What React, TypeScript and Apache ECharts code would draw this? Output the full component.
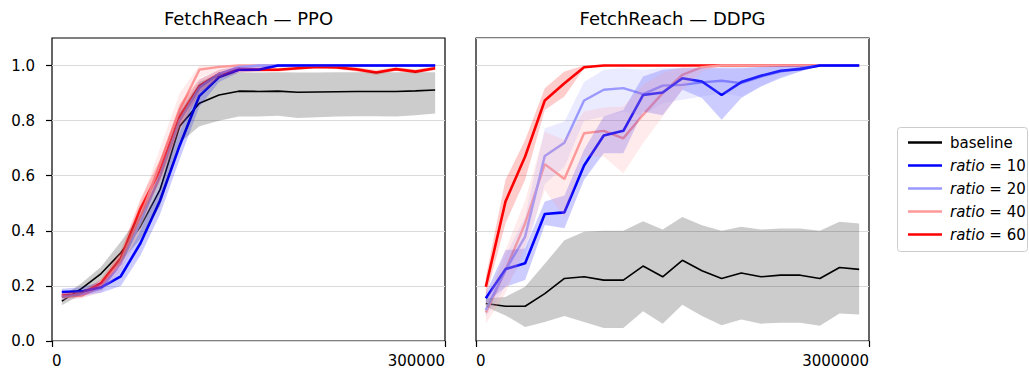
import React, { useEffect, useRef } from 'react';
import * as echarts from 'echarts';

const FONT = '"DejaVu Sans", "Noto Sans", sans-serif';

// x positions (environment steps)
const PPO_X = [7500, 22500, 37500, 52500, 67500, 82500, 97500, 112500, 127500, 142500, 157500, 172500, 187500, 202500, 217500, 232500, 247500, 262500, 277500, 292500];
const DDPG_X = [75000, 225000, 375000, 525000, 675000, 825000, 975000, 1125000, 1275000, 1425000, 1575000, 1725000, 1875000, 2025000, 2175000, 2325000, 2475000, 2625000, 2775000, 2925000];

const PPO_XTICKS = [0, 300000];
const DDPG_XTICKS = [0, 3000000];
const Y_TICKS = [0, 0.2, 0.4, 0.6, 0.8, 1.0];

// ---------- PPO ----------
const ppoBase = [0.145, 0.19, 0.245, 0.32, 0.415, 0.55, 0.78, 0.863, 0.893, 0.907, 0.906, 0.907, 0.903, 0.904, 0.905, 0.906, 0.906, 0.906, 0.908, 0.911];
const ppoBaseLo = [0.13, 0.17, 0.22, 0.285, 0.37, 0.49, 0.72, 0.78, 0.8, 0.815, 0.815, 0.818, 0.81, 0.812, 0.815, 0.816, 0.816, 0.815, 0.82, 0.826];
const ppoBaseHi = [0.16, 0.21, 0.27, 0.36, 0.46, 0.61, 0.83, 0.94, 0.97, 0.975, 0.975, 0.976, 0.975, 0.975, 0.976, 0.976, 0.976, 0.976, 0.976, 0.976];

const ppoR10 = [0.178, 0.18, 0.195, 0.235, 0.355, 0.51, 0.71, 0.89, 0.958, 0.985, 0.985, 1.0, 1.0, 1.0, 1.0, 1.0, 1.0, 1.0, 1.0, 1.0];
const ppoR10Lo = [0.16, 0.165, 0.175, 0.2, 0.31, 0.46, 0.66, 0.85, 0.94, 0.975, 0.98, 0.996, 1.0, 1.0, 1.0, 1.0, 1.0, 1.0, 1.0, 1.0];
const ppoR10Hi = [0.19, 0.195, 0.215, 0.27, 0.4, 0.56, 0.76, 0.93, 0.975, 0.995, 0.995, 1.0, 1.0, 1.0, 1.0, 1.0, 1.0, 1.0, 1.0, 1.0];

const ppoR20 = [0.16, 0.17, 0.19, 0.28, 0.43, 0.6, 0.8, 0.92, 0.97, 0.995, 1.0, 1.0, 1.0, 1.0, 1.0, 1.0, 1.0, 1.0, 1.0, 1.0];
const ppoR20Lo = [0.148, 0.158, 0.175, 0.25, 0.39, 0.56, 0.76, 0.89, 0.955, 0.985, 0.995, 1.0, 1.0, 1.0, 1.0, 1.0, 1.0, 1.0, 1.0, 1.0];
const ppoR20Hi = [0.172, 0.183, 0.208, 0.31, 0.47, 0.64, 0.84, 0.95, 0.985, 1.0, 1.0, 1.0, 1.0, 1.0, 1.0, 1.0, 1.0, 1.0, 1.0, 1.0];

const ppoR40 = [0.16, 0.165, 0.195, 0.29, 0.45, 0.645, 0.84, 0.985, 0.995, 1.0, 1.0, 1.0, 1.0, 1.0, 1.0, 1.0, 1.0, 1.0, 1.0, 1.0];
const ppoR40Lo = [0.148, 0.153, 0.178, 0.255, 0.4, 0.59, 0.78, 0.955, 0.985, 0.996, 1.0, 1.0, 1.0, 1.0, 1.0, 1.0, 1.0, 1.0, 1.0, 1.0];
const ppoR40Hi = [0.173, 0.178, 0.213, 0.33, 0.5, 0.7, 0.9, 1.0, 1.0, 1.0, 1.0, 1.0, 1.0, 1.0, 1.0, 1.0, 1.0, 1.0, 1.0, 1.0];

const ppoR60 = [0.165, 0.17, 0.21, 0.3, 0.48, 0.62, 0.815, 0.925, 0.97, 0.985, 0.985, 0.985, 0.99, 0.995, 0.993, 0.986, 0.975, 0.987, 0.978, 0.99];
const ppoR60Lo = [0.155, 0.16, 0.195, 0.275, 0.445, 0.58, 0.77, 0.9, 0.955, 0.975, 0.977, 0.978, 0.984, 0.99, 0.987, 0.978, 0.966, 0.98, 0.97, 0.983];
const ppoR60Hi = [0.175, 0.18, 0.225, 0.325, 0.515, 0.66, 0.86, 0.95, 0.985, 0.995, 0.993, 0.992, 0.996, 1.0, 0.999, 0.994, 0.984, 0.994, 0.986, 0.997];

// ---------- DDPG ----------
const ddpgBase = [0.136, 0.126, 0.126, 0.172, 0.227, 0.233, 0.221, 0.221, 0.272, 0.233, 0.293, 0.255, 0.227, 0.247, 0.233, 0.239, 0.239, 0.227, 0.267, 0.26];
const ddpgBaseLo = [0.124, 0.093, 0.051, 0.069, 0.091, 0.069, 0.047, 0.047, 0.108, 0.063, 0.132, 0.091, 0.057, 0.078, 0.063, 0.066, 0.066, 0.055, 0.1, 0.096];
const ddpgBaseHi = [0.155, 0.16, 0.197, 0.28, 0.366, 0.397, 0.4, 0.4, 0.435, 0.405, 0.45, 0.42, 0.4, 0.415, 0.405, 0.408, 0.408, 0.4, 0.433, 0.427];

const ddpgR10 = [0.155, 0.261, 0.282, 0.461, 0.467, 0.637, 0.746, 0.763, 0.893, 0.902, 0.954, 0.942, 0.893, 0.94, 0.963, 0.981, 0.987, 1.0, 1.0, 1.0];
const ddpgR10Lo = [0.136, 0.197, 0.221, 0.421, 0.409, 0.585, 0.682, 0.682, 0.833, 0.82, 0.912, 0.882, 0.803, 0.882, 0.924, 0.954, 0.978, 1.0, 1.0, 1.0];
const ddpgR10Hi = [0.173, 0.33, 0.336, 0.506, 0.528, 0.694, 0.815, 0.839, 0.96, 0.985, 0.99, 0.99, 0.99, 0.99, 0.995, 0.998, 0.998, 1.0, 1.0, 1.0];

const ddpgR20 = [0.112, 0.257, 0.379, 0.672, 0.72, 0.873, 0.912, 0.918, 0.896, 0.927, 0.93, 0.939, 0.945, 0.936, 0.96, 0.978, 0.99, 1.0, 1.0, 1.0];
const ddpgR20Lo = [0.088, 0.197, 0.306, 0.57, 0.633, 0.8, 0.815, 0.833, 0.82, 0.864, 0.876, 0.888, 0.9, 0.888, 0.924, 0.96, 0.978, 1.0, 1.0, 1.0];
const ddpgR20Hi = [0.136, 0.31, 0.45, 0.772, 0.797, 0.94, 0.985, 0.99, 0.985, 0.99, 0.992, 0.994, 0.995, 0.995, 0.996, 0.998, 0.999, 1.0, 1.0, 1.0];

const ddpgR40 = [0.103, 0.257, 0.427, 0.642, 0.588, 0.754, 0.763, 0.736, 0.821, 0.9, 0.966, 0.994, 1.0, 1.0, 1.0, 1.0, 1.0, 1.0, 1.0, 1.0];
const ddpgR40Lo = [0.063, 0.173, 0.342, 0.548, 0.45, 0.67, 0.67, 0.609, 0.718, 0.815, 0.912, 0.978, 1.0, 1.0, 1.0, 1.0, 1.0, 1.0, 1.0, 1.0];
const ddpgR40Hi = [0.136, 0.33, 0.51, 0.76, 0.73, 0.833, 0.848, 0.85, 0.93, 0.972, 0.995, 1.0, 1.0, 1.0, 1.0, 1.0, 1.0, 1.0, 1.0, 1.0];

const ddpgR60 = [0.197, 0.506, 0.67, 0.873, 0.936, 0.994, 1.0, 1.0, 1.0, 1.0, 1.0, 1.0, 1.0, 1.0, 1.0, 1.0, 1.0, 1.0, 1.0, 1.0];
const ddpgR60Lo = [0.16, 0.427, 0.585, 0.839, 0.888, 0.99, 1.0, 1.0, 1.0, 1.0, 1.0, 1.0, 1.0, 1.0, 1.0, 1.0, 1.0, 1.0, 1.0, 1.0];
const ddpgR60Hi = [0.233, 0.585, 0.73, 0.918, 0.978, 1.0, 1.0, 1.0, 1.0, 1.0, 1.0, 1.0, 1.0, 1.0, 1.0, 1.0, 1.0, 1.0, 1.0, 1.0];

const NAMES = ['baseline', 'ratio=10', 'ratio=20', 'ratio=40', 'ratio=60'];
const COLORS = ['#000000', '#0000ff', '#9999ff', '#ff9999', '#ff0000'];
const BAND_COLORS = ['rgba(0,0,0,0.2)', 'rgba(0,0,255,0.2)', 'rgba(153,153,255,0.2)', 'rgba(255,153,153,0.2)', 'rgba(255,0,0,0.2)'];
const WIDTHS = [1.6, 2.6, 2.4, 2.4, 2.6];

function lineSeries(idx: number, xs: number[], ys: number[], axis: number) {
  return {
    type: 'line',
    name: NAMES[idx],
    xAxisIndex: axis,
    yAxisIndex: axis,
    data: xs.map((x, i) => [x, ys[i]]),
    symbol: 'none',
    showSymbol: false,
    color: COLORS[idx],
    lineStyle: { color: COLORS[idx], width: WIDTHS[idx] },
    silent: true,
    z: 2,
  };
}

function bandSeries(idx: number, xs: number[], lo: number[], hi: number[], axis: number) {
  return {
    type: 'custom',
    name: 'band-' + NAMES[idx] + '-' + axis,
    xAxisIndex: axis,
    yAxisIndex: axis,
    data: xs.map((x, i) => [x, lo[i], hi[i]]),
    encode: { x: 0, y: [1, 2] },
    silent: true,
    z: 3,
    renderItem: (params: any, api: any) => {
      if (params.dataIndex !== 0) return null;
      const pts: number[][] = [];
      for (let i = 0; i < xs.length; i++) pts.push(api.coord([xs[i], hi[i]]));
      for (let i = xs.length - 1; i >= 0; i--) pts.push(api.coord([xs[i], lo[i]]));
      return { type: 'polygon', shape: { points: pts }, style: { fill: BAND_COLORS[idx], stroke: 'none' } };
    },
  };
}

export default function App() {
  const ref = useRef<HTMLDivElement>(null);
  useEffect(() => {
    if (!ref.current) return;
    const chart = echarts.init(ref.current, undefined, { renderer: 'svg' });

    const axisLabelStyle = { color: '#000', fontFamily: FONT, fontSize: 15 };
    const tickStyle = { color: '#000', width: 1.2 };

    const xAxisBase = (max: number, gridIndex: number, ticks: number[]) => ({
      type: 'value',
      gridIndex,
      min: 0,
      max,
      axisLine: { show: false },
      axisTick: { show: true, length: 6, lineStyle: tickStyle, customValues: ticks },
      axisLabel: {
        ...axisLabelStyle,
        margin: 12,
        customValues: ticks,
        alignMinLabel: 'left',
        alignMaxLabel: 'right',
        formatter: (v: number) => String(v),
      },
      splitLine: { show: false },
    });

    const ppoSeriesData = [
      [ppoBase, ppoBaseLo, ppoBaseHi],
      [ppoR10, ppoR10Lo, ppoR10Hi],
      [ppoR20, ppoR20Lo, ppoR20Hi],
      [ppoR40, ppoR40Lo, ppoR40Hi],
      [ppoR60, ppoR60Lo, ppoR60Hi],
    ];
    const ddpgSeriesData = [
      [ddpgBase, ddpgBaseLo, ddpgBaseHi],
      [ddpgR10, ddpgR10Lo, ddpgR10Hi],
      [ddpgR20, ddpgR20Lo, ddpgR20Hi],
      [ddpgR40, ddpgR40Lo, ddpgR40Hi],
      [ddpgR60, ddpgR60Lo, ddpgR60Hi],
    ];
    const lineOrder = [0, 4, 3, 2, 1];
    const series: any[] = [];
    [[PPO_X, ppoSeriesData, 0], [DDPG_X, ddpgSeriesData, 1]].forEach(([xs, sd, ax]: any) => {
      lineOrder.forEach((i) => series.push(lineSeries(i, xs, sd[i][0], ax)));
      [0, 1, 2, 3, 4].forEach((i) => series.push(bandSeries(i, xs, sd[i][1], sd[i][2], ax)));
    });

    const option: any = {
      animation: false,
      backgroundColor: '#ffffff',
      textStyle: { fontFamily: FONT },
      grid: [
        { left: 52, top: 38, width: 393, height: 303, show: true, borderColor: '#000', borderWidth: 1.2, backgroundColor: 'transparent' },
        { left: 476, top: 38, width: 393, height: 303, show: true, borderColor: '#000', borderWidth: 1.2, backgroundColor: 'transparent' },
      ],
      xAxis: [xAxisBase(300000, 0, PPO_XTICKS), xAxisBase(3000000, 1, DDPG_XTICKS)],
      yAxis: [
        {
          type: 'value', gridIndex: 0, min: 0, max: 1.1, interval: 0.2,
          axisLine: { show: false },
          axisTick: { show: true, length: 6, lineStyle: tickStyle, customValues: Y_TICKS },
          axisLabel: { ...axisLabelStyle, margin: 17, customValues: Y_TICKS, formatter: (v: number) => v.toFixed(1) },
          splitLine: { show: true, lineStyle: { color: '#dadada', width: 1.2 } },
        },
        {
          type: 'value', gridIndex: 1, min: 0, max: 1.1, interval: 0.2,
          axisLine: { show: false },
          axisTick: { show: false },
          axisLabel: { show: false },
          splitLine: { show: true, lineStyle: { color: '#dadada', width: 1.2 } },
        },
      ],
      legend: {
        data: NAMES,
        orient: 'vertical',
        left: 903,
        top: 130,
        itemWidth: 34,
        itemHeight: 2.5,
        itemGap: 8,
        icon: 'rect',
        selectedMode: false,
        z: 10,
        formatter: (name: string) => (name === 'baseline' ? name : '{i|ratio} = ' + name.split('=')[1]),
        textStyle: {
          color: '#000', fontFamily: FONT, fontSize: 15, lineHeight: 15, padding: [0, 0, 0, 3],
          rich: { i: { fontStyle: 'italic', fontFamily: FONT, fontSize: 15, color: '#000', lineHeight: 15 } },
        },
      },
      graphic: [
        {
          type: 'rect', z: 5, silent: true,
          shape: { x: 897.5, y: 127.5, width: 130, height: 124, r: 3 },
          style: { fill: '#ffffff', stroke: '#cccccc', lineWidth: 1 },
        },
        {
          type: 'text', x: 248.5, y: 18.5, silent: true,
          style: { text: 'FetchReach — PPO', font: '18px ' + FONT, fill: '#000', align: 'center', verticalAlign: 'middle', textAlign: 'center', textVerticalAlign: 'middle' },
        },
        {
          type: 'text', x: 672.5, y: 18.5, silent: true,
          style: { text: 'FetchReach — DDPG', font: '18px ' + FONT, fill: '#000', align: 'center', verticalAlign: 'middle', textAlign: 'center', textVerticalAlign: 'middle' },
        },
      ],
      series,
    };
    chart.setOption(option);
    return () => chart.dispose();
  }, []);
  return <div ref={ref} style={{ position: 'absolute', left: 0, top: 0, width: 1029, height: 371 }} />;
}
